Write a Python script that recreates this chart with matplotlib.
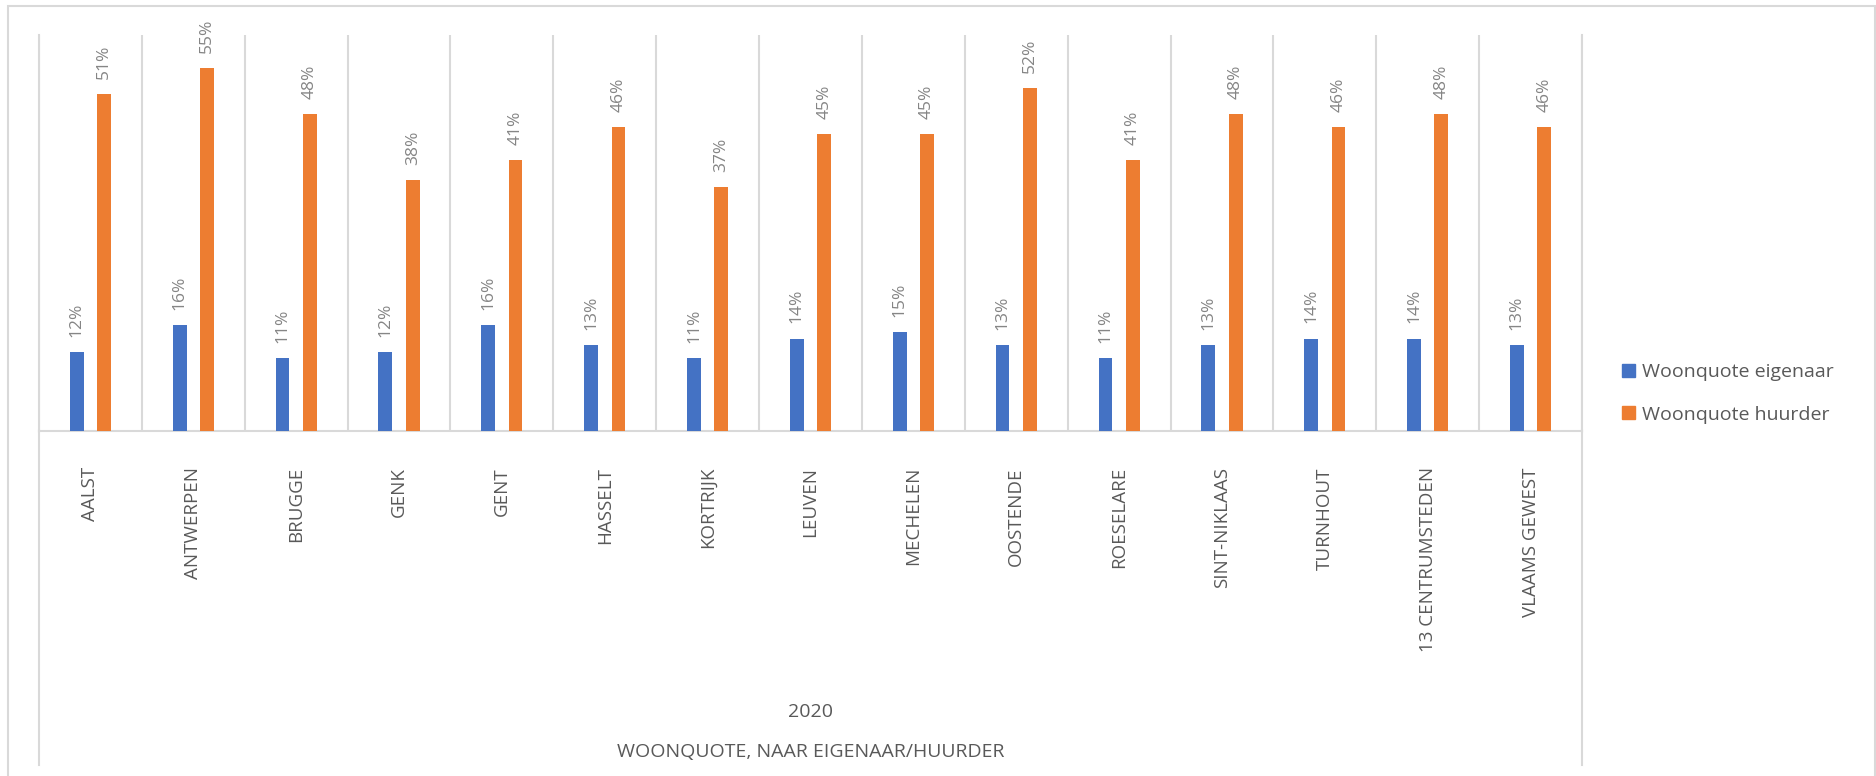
import matplotlib
matplotlib.use("Agg")
import matplotlib.pyplot as plt
from matplotlib.patches import Patch, Rectangle
import numpy as np

categories = ["AALST", "ANTWERPEN", "BRUGGE", "GENK", "GENT", "HASSELT", "KORTRIJK",
              "LEUVEN", "MECHELEN", "OOSTENDE", "ROESELARE", "SINT-NIKLAAS",
              "TURNHOUT", "13 CENTRUMSTEDEN", "VLAAMS GEWEST"]
eigenaar = [0.12, 0.16, 0.11, 0.12, 0.16, 0.13, 0.11, 0.14, 0.15, 0.13, 0.11, 0.13, 0.14, 0.14, 0.13]
huurder = [0.51, 0.55, 0.48, 0.38, 0.41, 0.46, 0.37, 0.45, 0.45, 0.52, 0.41, 0.48, 0.46, 0.48, 0.46]
series_names = ["Woonquote eigenaar", "Woonquote huurder"]
level2_label = "2020"
level3_label = "WOONQUOTE, NAAR EIGENAAR/HUURDER"

plt.rcParams['font.family'] = ['Open Sans', 'DejaVu Sans']

W, H = 1876, 776
fig = plt.figure(figsize=(W / 100, H / 100), dpi=100)
left, right, top, base = 39, 1582, 35, 431
ax = fig.add_axes([left / W, 1 - base / H, (right - left) / W, (base - top) / H])

blue = "#4472C4"
orange = "#ED7D31"
grid_c = "#D9D9D9"
lab_c = "#858585"
cat_c = "#595959"

x = np.arange(len(categories))
bw = 0.134
off = 0.133
b1 = ax.bar(x - off, eigenaar, width=bw, color=blue, label=series_names[0], zorder=3)
b2 = ax.bar(x + off, huurder, width=bw, color=orange, label=series_names[1], zorder=3)

for bars, vals in ((b1, eigenaar), (b2, huurder)):
    for r, v in zip(bars, vals):
        ax.annotate(f"{round(v * 100):d}%", (r.get_x() + r.get_width() / 2, r.get_height()),
                    xytext=(0, 11), textcoords="offset points", rotation=90,
                    ha="center", va="bottom", color=lab_c, fontsize=12.5)

ax.set_xlim(-0.5, len(categories) - 0.5)
ax.set_ylim(0, 0.6)
ax.set_yticks([])
ax.set_xticks(x)
ax.set_xticklabels(categories, rotation=90, color=cat_c, fontsize=13.5)
ax.tick_params(axis="x", length=0, pad=26)
ax.set_xticks(np.arange(len(categories) + 1) - 0.5, minor=True)
ax.tick_params(axis="x", which="minor", length=0)
ax.grid(which="minor", axis="x", color=grid_c, lw=1.5, zorder=0)
ax.grid(which="major", visible=False)
ax.spines["top"].set_visible(False)
for s in ("left", "right", "bottom"):
    ax.spines[s].set_color(grid_c)
    ax.spines[s].set_linewidth(1.5)

ext = -(765 - base) / (base - top)
ax.plot([0, 0], [0, ext], transform=ax.transAxes, clip_on=False, color=grid_c, lw=1.5)
ax.plot([1, 1], [0, ext], transform=ax.transAxes, clip_on=False, color=grid_c, lw=1.5)

cx = (left + right) / 2 / W
fig.text(cx, 1 - 712 / H, level2_label, ha="center", va="center", color=cat_c, fontsize=14)
fig.text(cx, 1 - 752 / H, level3_label, ha="center", va="center", color=cat_c, fontsize=14)

handles = [Patch(color=blue), Patch(color=orange)]
fig.legend(handles, series_names, loc="center left", bbox_to_anchor=(1622 / W, 1 - 393.5 / H),
           frameon=False, fontsize=14, labelcolor=cat_c,
           handlelength=0.65, handleheight=0.65,
           handletextpad=0.4, labelspacing=1.25, borderpad=0, borderaxespad=0)

fig.patches.append(Rectangle((8 / W, -0.01), (W - 9) / W, 1 - 6 / H + 0.01, transform=fig.transFigure,
                             fill=False, edgecolor=grid_c, lw=1.5))

fig.savefig("out.png", dpi=100, facecolor="white")
